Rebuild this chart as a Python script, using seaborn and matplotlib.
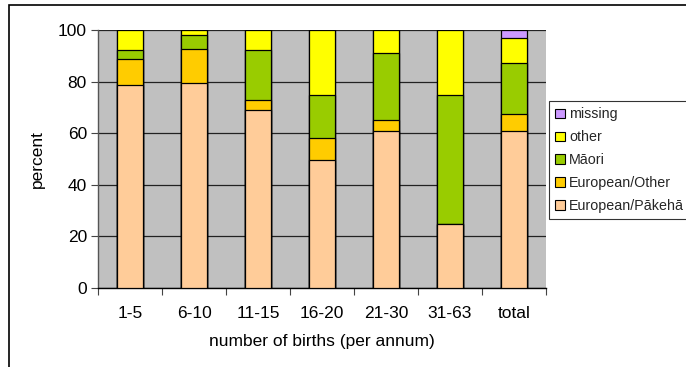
import numpy as np
import pandas as pd
import matplotlib
matplotlib.use("Agg")
import matplotlib.pyplot as plt
import seaborn as sns
from matplotlib.patches import Patch, Rectangle

categories = ["1-5", "6-10", "11-15", "16-20", "21-30", "31-63", "total"]
european_pakeha = [78.6, 79.4, 69.1, 49.7, 60.7, 25.0, 61.0]
european_other = [10.2, 13.2, 3.8, 8.5, 4.4, 0.0, 6.6]
maori = [3.3, 5.6, 19.2, 16.8, 26.1, 50.0, 19.6]
other = [7.9, 1.8, 7.9, 25.0, 8.8, 25.0, 9.8]
missing = [0.0, 0.0, 0.0, 0.0, 0.0, 0.0, 3.0]

series_names = ["European/Pākehā", "European/Other", "Māori", "other", "missing"]
series_values = [european_pakeha, european_other, maori, other, missing]
colors = ["#FFCC99", "#FFCC00", "#99CC00", "#FFFF00", "#CC99FF"]

sns.set_theme(style="white")
plt.rcParams["font.family"] = ["Liberation Sans", "DejaVu Sans"]

fig = plt.figure(figsize=(6.86, 3.67), dpi=100)
ax = fig.add_axes([98 / 686, 1 - 288 / 367, (546 - 98) / 686, (288 - 30) / 367])
ax.set_facecolor("#C0C0C0")

cum = np.cumsum(np.array(series_values), axis=0)
# draw from top series down so lower segments overlay
for i in range(len(series_names) - 1, -1, -1):
    df = pd.DataFrame({"cat": categories, "val": cum[i]})
    sns.barplot(data=df, x="cat", y="val", color=colors[i], width=0.4,
                edgecolor="black", linewidth=0.9, saturation=1, ax=ax, zorder=3)

ax.set_ylim(0, 100)
ax.set_xlim(-0.5, len(categories) - 0.5)
ax.set_yticks([0, 20, 40, 60, 80, 100])
ax.yaxis.grid(True, color="#222222", linewidth=0.9, zorder=0)
ax.set_axisbelow(True)
for s in ["top", "right"]:
    ax.spines[s].set_visible(False)
ax.spines["left"].set_color("#555555")
ax.spines["bottom"].set_color("black")
ax.spines["left"].set_linewidth(1.0)
ax.spines["bottom"].set_linewidth(1.0)

ax.tick_params(axis="y", left=True, length=5, width=0.8, color="#444444",
               labelsize=12.5, pad=3, labelcolor="black")
ax.set_xticks(range(len(categories)))
ax.set_xticklabels(categories)
ax.tick_params(axis="x", bottom=False, labelsize=12.5, pad=7, labelcolor="black")
ax.set_xticks(np.arange(-0.5, len(categories), 1.0), minor=True)
ax.tick_params(axis="x", which="minor", bottom=True, length=5, width=0.8, color="#444444")

ax.set_xlabel("number of births (per annum)", fontsize=12.5, labelpad=9, color="black")
ax.set_ylabel("percent", fontsize=12.5, labelpad=9, color="black")

handles = [Patch(facecolor=colors[i], edgecolor="black", linewidth=0.8, label=series_names[i])
           for i in range(len(series_names) - 1, -1, -1)]
leg = fig.legend(handles=handles, loc="upper left",
                 bbox_to_anchor=(549 / 686, 1 - 101 / 367),
                 frameon=True, fancybox=False, fontsize=10.3,
                 handlelength=0.65, handleheight=0.65, handletextpad=0.3,
                 labelspacing=0.62, borderpad=0.45, borderaxespad=0)
leg.get_frame().set_edgecolor("black")
leg.get_frame().set_linewidth(0.8)
leg.get_frame().set_facecolor("white")

# outer chart border
fig.patches.append(Rectangle((9 / 686, -0.1), 1.2, 1 - 5 / 367 + 0.1,
                             transform=fig.transFigure, fill=False,
                             edgecolor="black", linewidth=1.2, zorder=0))

fig.savefig("out.png", dpi=100)
